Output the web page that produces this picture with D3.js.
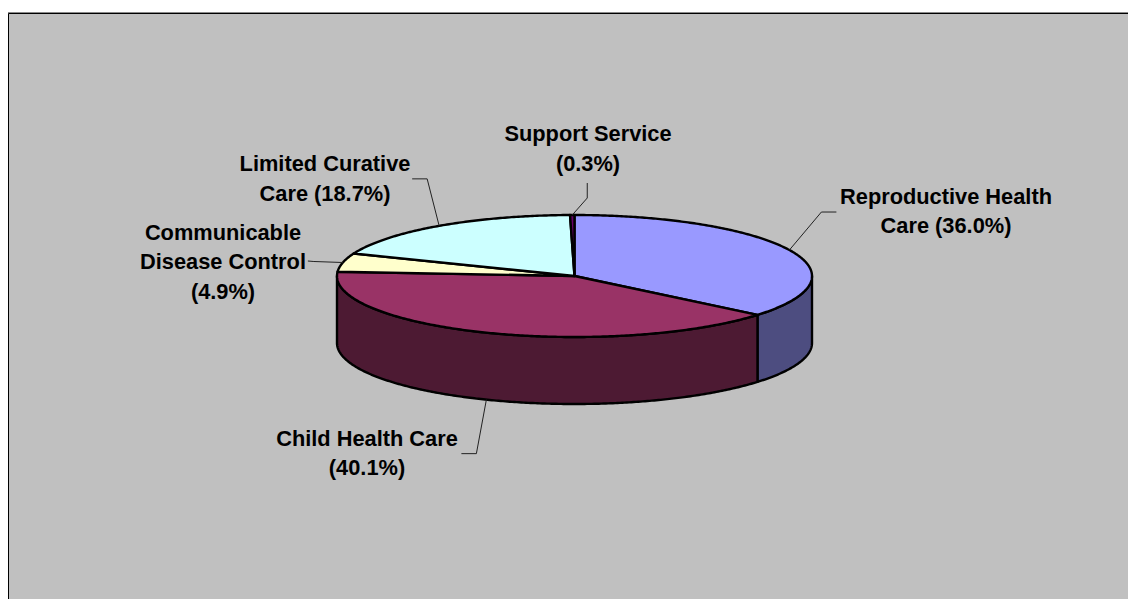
<!DOCTYPE html>
<html>
<head>
<meta charset="utf-8">
<script src="https://cdn.jsdelivr.net/npm/d3@7/dist/d3.min.js"></script>
<style>
  html, body { margin: 0; padding: 0; background: #fff; }
  svg { display: block; }
  text { font-family: "Liberation Sans", Arial, sans-serif; font-weight: 700; font-size: 21.8px; fill: #000; }
</style>
</head>
<body>
<svg id="chart" width="1128" height="599"></svg>
<script>
// Programme spending shares, clockwise from the top of the pie
const categories = ["Reproductive Health Care", "Child Health Care", "Communicable Disease Control", "Limited Curative Care", "Support Service"];
const shares = [36.0, 40.1, 4.9, 18.7, 0.3];
const labelLines = [
  ["Reproductive Health", "Care (36.0%)"],
  ["Child Health Care", "(40.1%)"],
  ["Communicable", "Disease Control", "(4.9%)"],
  ["Limited Curative", "Care (18.7%)"],
  ["Support Service", "(0.3%)"]
];
const topColors = ["#9999FF", "#993366", "#FFFFCC", "#CCFFFF", "#660066"];
const sideColors = ["#4D4D80", "#4D1A33", "#808066", "#668080", "#330033"];

// Layout of the tilted pie
const centre = { x: 574.5, y: 276 };
const radiusX = 237.5, radiusY = 61, depth = 67;
const lineStep = 29.5;

// Leader elbows (relative to the rim point) and text anchors for each label
const leaders = [
  { elbow: [32, -38], end: [47, -38], text: [946, 203.5] },
  { elbow: [-10, 54], end: [-25, 54], text: [367, 445.5] },
  { elbow: [-29, -1], end: [-35, -1.5], text: [223, 239.5] },
  { elbow: [-12, -47], end: [-27, -47], text: [325, 171] },
  { elbow: [15, -17], end: [15, -32], text: [588, 141] }
];

const svg = d3.select("#chart");

// Panel with only its top and left edges inside the frame
svg.append("rect").attr("x", 8).attr("y", 13).attr("width", 1120).attr("height", 586).attr("fill", "#C0C0C0");
svg.append("path").attr("d", "M8,12.5H1128").attr("fill", "none").attr("stroke", "#8a8a8a").attr("stroke-width", 1);
svg.append("path").attr("d", "M8.5,599V13.5H1128").attr("fill", "none").attr("stroke", "#000").attr("stroke-width", 1);

const pie = d3.pie().sort(null).value(d => d);
const slices = pie(shares);

// An angle on the pie maps to an ellipse point via two linear scales
const xScale = d3.scaleLinear().domain([-1, 1]).range([centre.x - radiusX, centre.x + radiusX]);
const yScale = d3.scaleLinear().domain([-1, 1]).range([centre.y - radiusY, centre.y + radiusY]);
const rimPoint = (a, drop = 0) => [xScale(Math.sin(a)), yScale(-Math.cos(a)) + drop];
const line = d3.line();

function arcPoints(a0, a1, drop = 0) {
  const n = Math.max(2, Math.ceil(Math.abs(a1 - a0) / 0.01));
  return d3.range(n + 1).map(i => rimPoint(a0 + (a1 - a0) * i / n, drop));
}

// Wall pieces: only the front half of the rim (between 90 and 270 degrees) is visible
const frontStart = Math.PI / 2, frontEnd = 3 * Math.PI / 2;
slices.forEach((s, i) => {
  const a0 = Math.max(s.startAngle, frontStart), a1 = Math.min(s.endAngle, frontEnd);
  if (a1 <= a0) return;
  const pts = arcPoints(a0, a1).concat(arcPoints(a1, a0, depth));
  svg.append("path")
    .attr("d", line(pts) + "Z")
    .attr("fill", sideColors[i])
    .attr("stroke", "#000").attr("stroke-width", 2.4).attr("stroke-linejoin", "round");
});

// Top faces
slices.forEach((s, i) => {
  const pts = [[centre.x, centre.y]].concat(arcPoints(s.startAngle, s.endAngle));
  svg.append("path")
    .attr("d", line(pts) + "Z")
    .attr("fill", topColors[i])
    .attr("stroke", "#000").attr("stroke-width", 2.4).attr("stroke-linejoin", "round");
});

// Leader lines start at each slice's mid-angle on the visible rim
slices.forEach((s, i) => {
  const mid = (s.startAngle + s.endAngle) / 2;
  const front = mid > frontStart && mid < frontEnd;
  const p = rimPoint(mid, front ? depth : 0);
  const l = leaders[i];
  svg.append("path")
    .attr("d", line([p, [p[0] + l.elbow[0], p[1] + l.elbow[1]], [p[0] + l.end[0], p[1] + l.end[1]]]))
    .attr("fill", "none").attr("stroke", "#222").attr("stroke-width", 1);
});

// Labels, centred line by line
slices.forEach((s, i) => {
  const l = leaders[i];
  const t = svg.append("text").attr("text-anchor", "middle");
  labelLines[i].forEach((str, k) => {
    t.append("tspan").attr("x", l.text[0]).attr("y", l.text[1] + k * lineStep).text(str);
  });
});
</script>
</body>
</html>
